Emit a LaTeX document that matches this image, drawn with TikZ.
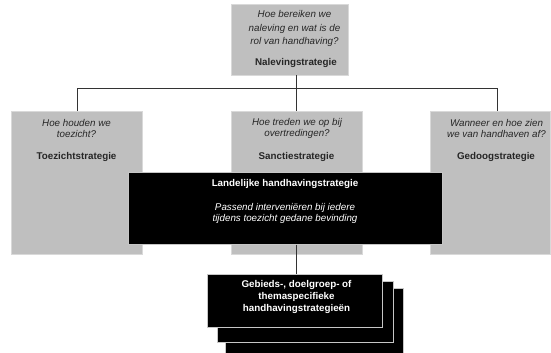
\documentclass[tikz,border=0pt]{standalone}
\usepackage{fontspec}
\setmainfont{Liberation Sans}
\begin{document}
\begin{tikzpicture}[x=1pt,y=-1pt,
  graybox/.style={fill=gray!50!white, draw=gray!30, line width=0.4pt, inner sep=0pt, anchor=north west},
  blackbox/.style={fill=black, draw=gray!45, line width=0.7pt, inner sep=0pt, anchor=north west},
  qtext/.style={font=\fontsize{9.8}{11.3}\selectfont\itshape, align=center, inner sep=0pt, text=black!85},
  ltext/.style={font=\fontsize{9.8}{11.3}\selectfont\bfseries, align=center, inner sep=0pt, text=black!85},
  conn/.style={draw=black!80, line width=0.8pt}]
\useasboundingbox (0,0) rectangle (551,353);
\clip (0,0) rectangle (551,353);
% gray boxes
\node[graybox, minimum width=117pt, minimum height=71pt] (top) at (231,4) {};
\node[graybox, minimum width=131pt, minimum height=143pt] (left) at (11,111) {};
\node[graybox, minimum width=131pt, minimum height=143pt] (mid) at (231,111) {};
\node[graybox, minimum width=120pt, minimum height=143pt] (right) at (430,111) {};
% connectors
\coordinate (hl) at (77,88);
\coordinate (hr) at (497,88);
\coordinate (hm) at (296,88);
\draw[conn] (hl) -- (hr);
\draw[conn] (top.south -| hm) -- (mid.north -| hm);
\draw[conn] (hl) -- (left.north -| hl);
\draw[conn] (hr) -- (right.north -| hr);
% texts in gray boxes
\node[qtext, font=\fontsize{9.8}{13.3}\selectfont\itshape] (tq) at (294.5,28.5) {Hoe bereiken we\\naleving en wat is de\\rol van handhaving?};
\node[ltext] (tl) at (296,63) {Nalevingstrategie};
\node[qtext] (lq) at (76.5,128.5) {Hoe houden we\\toezicht?};
\node[ltext] (ll) at (76.5,157) {Toezichtstrategie};
\node[qtext] (mq) at (297,128.5) {Hoe treden we op bij\\overtredingen?};
\node[ltext] (ml) at (296.5,157) {Sanctiestrategie};
\node[qtext] (rq) at (496.5,128.5) {Wanneer en hoe zien\\we van handhaven af?};
\node[ltext] (rl) at (496,157) {Gedoogstrategie};
% black national box
\node[blackbox, minimum width=314pt, minimum height=72pt] (nat) at (128,172) {};
\node[ltext, text=white] (natl) at (285,184) {Landelijke handhavingstrategie};
\node[qtext, text=white] (natq) at (285,213.5) {Passend interveniëren bij iedere\\tijdens toezicht gedane bevinding};
% stack
\node[blackbox, minimum width=178pt, minimum height=70pt] (s3) at (225,288) {};
\node[blackbox, minimum width=176pt, minimum height=61pt] (s2) at (217,281) {};
\node[blackbox, minimum width=175pt, minimum height=53pt] (s1) at (207,274) {};
\node[ltext, text=white, font=\fontsize{9.8}{12}\selectfont\bfseries] (sl) at (296.5,296.5) {Gebieds-, doelgroep- of\\themaspecifieke\\handhavingstrategieën};
\draw[conn] (nat.south -| hm) -- (s1.north -| hm);
\end{tikzpicture}
\end{document}
